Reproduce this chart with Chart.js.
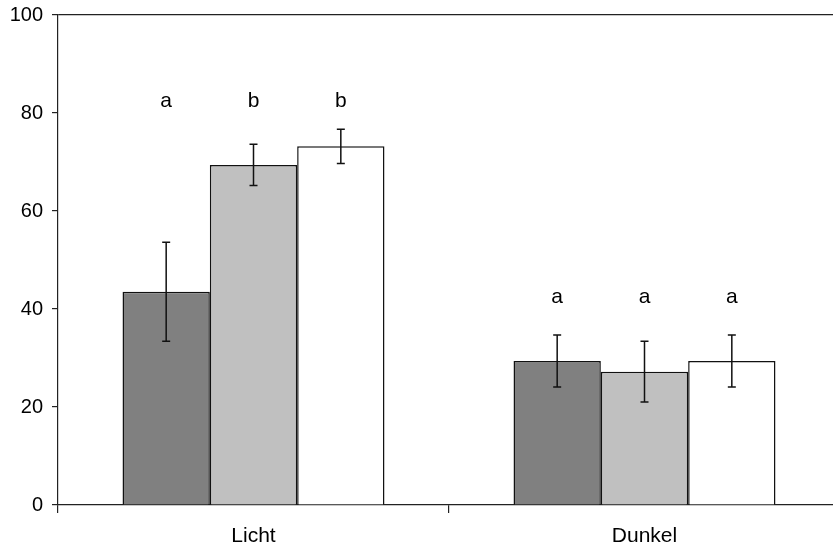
<!DOCTYPE html>
<html>
<head>
<meta charset="utf-8">
<script src="https://cdn.jsdelivr.net/npm/chart.js@4/dist/chart.umd.min.js"></script>
<style>
  html, body { margin: 0; padding: 0; background: #fff; overflow: hidden; }
  #wrap { width: 845px; height: 550px; }
</style>
</head>
<body>
<div id="wrap"><canvas id="chart"></canvas></div>
<script>
const categories = ['Licht', 'Dunkel'];
const series1 = [43.5, 29.4];
const series2 = [69.4, 27.2];
const series3 = [73.2, 29.4];
const errors1 = [10.1, 5.3];
const errors2 = [4.2, 6.2];
const errors3 = [3.5, 5.3];
const letters1 = ['a', 'a'];
const letters2 = ['b', 'a'];
const letters3 = ['b', 'a'];
const letterLevel = [82.5, 42.5];
const yTicks = [0, 20, 40, 60, 80, 100];

const errors = [errors1, errors2, errors3];
const letters = [letters1, letters2, letters3];

// error bars and significance letters, positioned through the scales
const extras = {
    id: 'extras',
    afterDatasetsDraw(chart) {
        const ctx = chart.ctx;
        const y = chart.scales.y;
        ctx.save();
        chart.data.datasets.forEach((ds, i) => {
            const meta = chart.getDatasetMeta(i);
            meta.data.forEach((bar, j) => {
                const v = ds.data[j];
                const e = errors[i][j];
                const top = y.getPixelForValue(v + e);
                const bot = y.getPixelForValue(v - e);
                ctx.strokeStyle = '#111';
                ctx.lineWidth = 1.5;
                ctx.beginPath();
                ctx.moveTo(bar.x, top); ctx.lineTo(bar.x, bot);
                ctx.moveTo(bar.x - 4, top); ctx.lineTo(bar.x + 4, top);
                ctx.moveTo(bar.x - 4, bot); ctx.lineTo(bar.x + 4, bot);
                ctx.stroke();

                ctx.fillStyle = '#000';
                ctx.font = '21px "Liberation Sans", Arial, sans-serif';
                ctx.textAlign = 'center';
                ctx.textBaseline = 'middle';
                ctx.fillText(letters[i][j], bar.x, y.getPixelForValue(letterLevel[j]));
            });
        });
        ctx.restore();
    }
};

new Chart(document.getElementById('chart'), {
    type: 'bar',
    data: {
        labels: categories,
        datasets: [
            { data: series1, backgroundColor: '#808080', borderColor: '#111', borderWidth: 1.5 },
            { data: series2, backgroundColor: '#c0c0c0', borderColor: '#111', borderWidth: 1.5 },
            { data: series3, backgroundColor: '#ffffff', borderColor: '#111', borderWidth: 1.5 }
        ]
    },
    options: {
        responsive: true,
        maintainAspectRatio: false,
        animation: false,
        categoryPercentage: 0.67,
        barPercentage: 1.0,
        layout: { padding: { top: 15, right: 5, left: 0, bottom: 0 } },
        plugins: {
            legend: { display: false },
            tooltip: { enabled: false }
        },
        scales: {
            x: {
                grid: {
                    offset: true,
                    drawOnChartArea: false,
                    tickLength: 8,
                    tickColor: '#222',
                    lineWidth: 1.2
                },
                border: { display: true, color: '#222', width: 1.2 },
                ticks: {
                    color: '#000',
                    font: { family: '"Liberation Sans", Arial, sans-serif', size: 21 },
                    padding: 11
                },
                afterFit(scale) { scale.height = 45; }
            },
            y: {
                min: 0,
                max: 100,
                afterBuildTicks(scale) { scale.ticks = yTicks.map(v => ({ value: v })); },
                grid: {
                    color: c => c.tick && c.tick.value === 100 ? '#222' : 'rgba(0,0,0,0)',
                    tickColor: '#222',
                    tickLength: 6,
                    lineWidth: 1.2
                },
                border: { display: true, color: '#222', width: 1.2 },
                ticks: {
                    color: '#000',
                    font: { family: '"Liberation Sans", Arial, sans-serif', size: 20 },
                    padding: 9
                },
                afterFit(scale) {
                    scale.width = 58;
                    scale.paddingTop = 0;
                    scale.paddingBottom = 0;
                }
            }
        }
    },
    plugins: [extras]
});
</script>
</body>
</html>
